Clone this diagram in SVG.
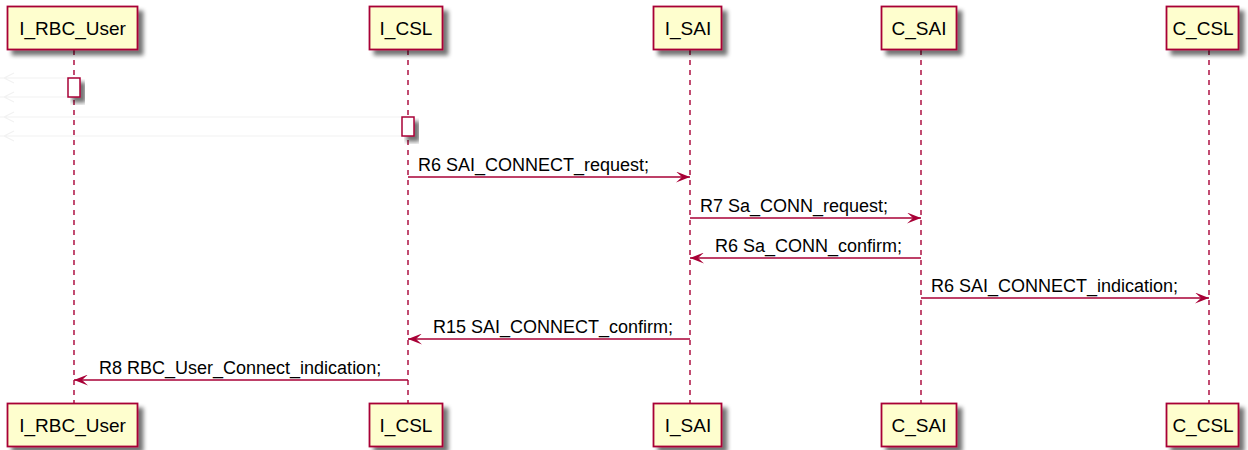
<svg xmlns="http://www.w3.org/2000/svg" width="1248" height="450" viewBox="0 0 1248 450">
<style>
.box{fill:#FEFECE;stroke:#A80036;stroke-width:1.8;filter:url(#sh)}
.act{fill:#FFFFFF;stroke:#A80036;stroke-width:1.5;filter:url(#sh)}
.pt{font-family:"Liberation Sans",Arial,sans-serif;font-size:19px;fill:#000;text-anchor:middle}
.mt{font-family:"Liberation Sans",Arial,sans-serif;font-size:18px;fill:#000}
.life{stroke:#A80036;stroke-width:1.4;stroke-dasharray:5,5;fill:none}
.msg{stroke:#A80036;stroke-width:1.4;fill:none;marker-end:url(#ah)}
.faint{stroke:#F2F2F2;stroke-width:1.2;fill:none}
</style>
<defs>
<filter id="sh" x="-20%" y="-20%" width="160%" height="160%">
<feGaussianBlur in="SourceAlpha" stdDeviation="2.2"/>
<feOffset dx="5" dy="5" result="b"/>
<feComponentTransfer><feFuncA type="linear" slope="0.55"/></feComponentTransfer>
<feMerge><feMergeNode/><feMergeNode in="SourceGraphic"/></feMerge>
</filter>
<marker id="ah" viewBox="0 0 14 11" refX="14" refY="5.5" markerWidth="14" markerHeight="11" markerUnits="userSpaceOnUse" orient="auto">
<path d="M0,0 L14,5.5 L0,11 L6,5.5 Z" fill="#A80036"/>
</marker>
</defs>

<g id="lifelines">
<line class="life" x1="74" y1="50" x2="74" y2="403"/>
<line class="life" x1="408" y1="50" x2="408" y2="403"/>
<line class="life" x1="690" y1="50" x2="690" y2="403"/>
<line class="life" x1="921" y1="50" x2="921" y2="403"/>
<line class="life" x1="1209" y1="50" x2="1209" y2="403"/>
</g>

<g id="connectors">
<path class="faint" d="M0,78 H68 M14,73 L4,78 L14,83"/>
<path class="faint" d="M0,97 H68 M14,92 L4,97 L14,102"/>
<path class="faint" d="M0,117 H402 M14,112 L4,117 L14,122"/>
<path class="faint" d="M0,136 H402 M14,131 L4,136 L14,141"/>

<line class="msg" x1="408" y1="177" x2="690" y2="177"/>
<text class="mt" x="418" y="171">R6 SAI_CONNECT_request;</text>
<line class="msg" x1="690" y1="218" x2="921" y2="218"/>
<text class="mt" x="700" y="212">R7 Sa_CONN_request;</text>
<line class="msg" x1="921" y1="258" x2="690" y2="258"/>
<text class="mt" x="715" y="252">R6 Sa_CONN_confirm;</text>
<line class="msg" x1="921" y1="298" x2="1209" y2="298"/>
<text class="mt" x="931" y="292">R6 SAI_CONNECT_indication;</text>
<line class="msg" x1="690" y1="339" x2="408" y2="339"/>
<text class="mt" x="433" y="333">R15 SAI_CONNECT_confirm;</text>
<line class="msg" x1="408" y1="380" x2="74" y2="380"/>
<text class="mt" x="99" y="374">R8 RBC_User_Connect_indication;</text>
</g>

<g id="act_I_RBC_User"><rect class="act" x="68" y="78" width="12" height="19"/></g>
<g id="act_I_CSL"><rect class="act" x="402" y="117" width="12" height="19"/></g>

<g id="I_RBC_User">
<rect class="box" x="7.5" y="6.5" width="130" height="43"/>
<text class="pt" x="72.5" y="35">I_RBC_User</text>
<rect class="box" x="7.5" y="403.5" width="130" height="43"/>
<text class="pt" x="72.5" y="432">I_RBC_User</text>
</g>
<g id="I_CSL">
<rect class="box" x="369.5" y="6.5" width="73" height="43"/>
<text class="pt" x="406" y="35">I_CSL</text>
<rect class="box" x="369.5" y="403.5" width="73" height="43"/>
<text class="pt" x="406" y="432">I_CSL</text>
</g>
<g id="I_SAI">
<rect class="box" x="653.5" y="6.5" width="68" height="43"/>
<text class="pt" x="688" y="35">I_SAI</text>
<rect class="box" x="653.5" y="403.5" width="68" height="43"/>
<text class="pt" x="688" y="432">I_SAI</text>
</g>
<g id="C_SAI">
<rect class="box" x="881.5" y="6.5" width="75" height="43"/>
<text class="pt" x="919" y="35">C_SAI</text>
<rect class="box" x="881.5" y="403.5" width="75" height="43"/>
<text class="pt" x="919" y="432">C_SAI</text>
</g>
<g id="C_CSL">
<rect class="box" x="1166.5" y="6.5" width="72" height="43"/>
<text class="pt" x="1203" y="35">C_CSL</text>
<rect class="box" x="1166.5" y="403.5" width="72" height="43"/>
<text class="pt" x="1203" y="432">C_CSL</text>
</g>
</svg>
